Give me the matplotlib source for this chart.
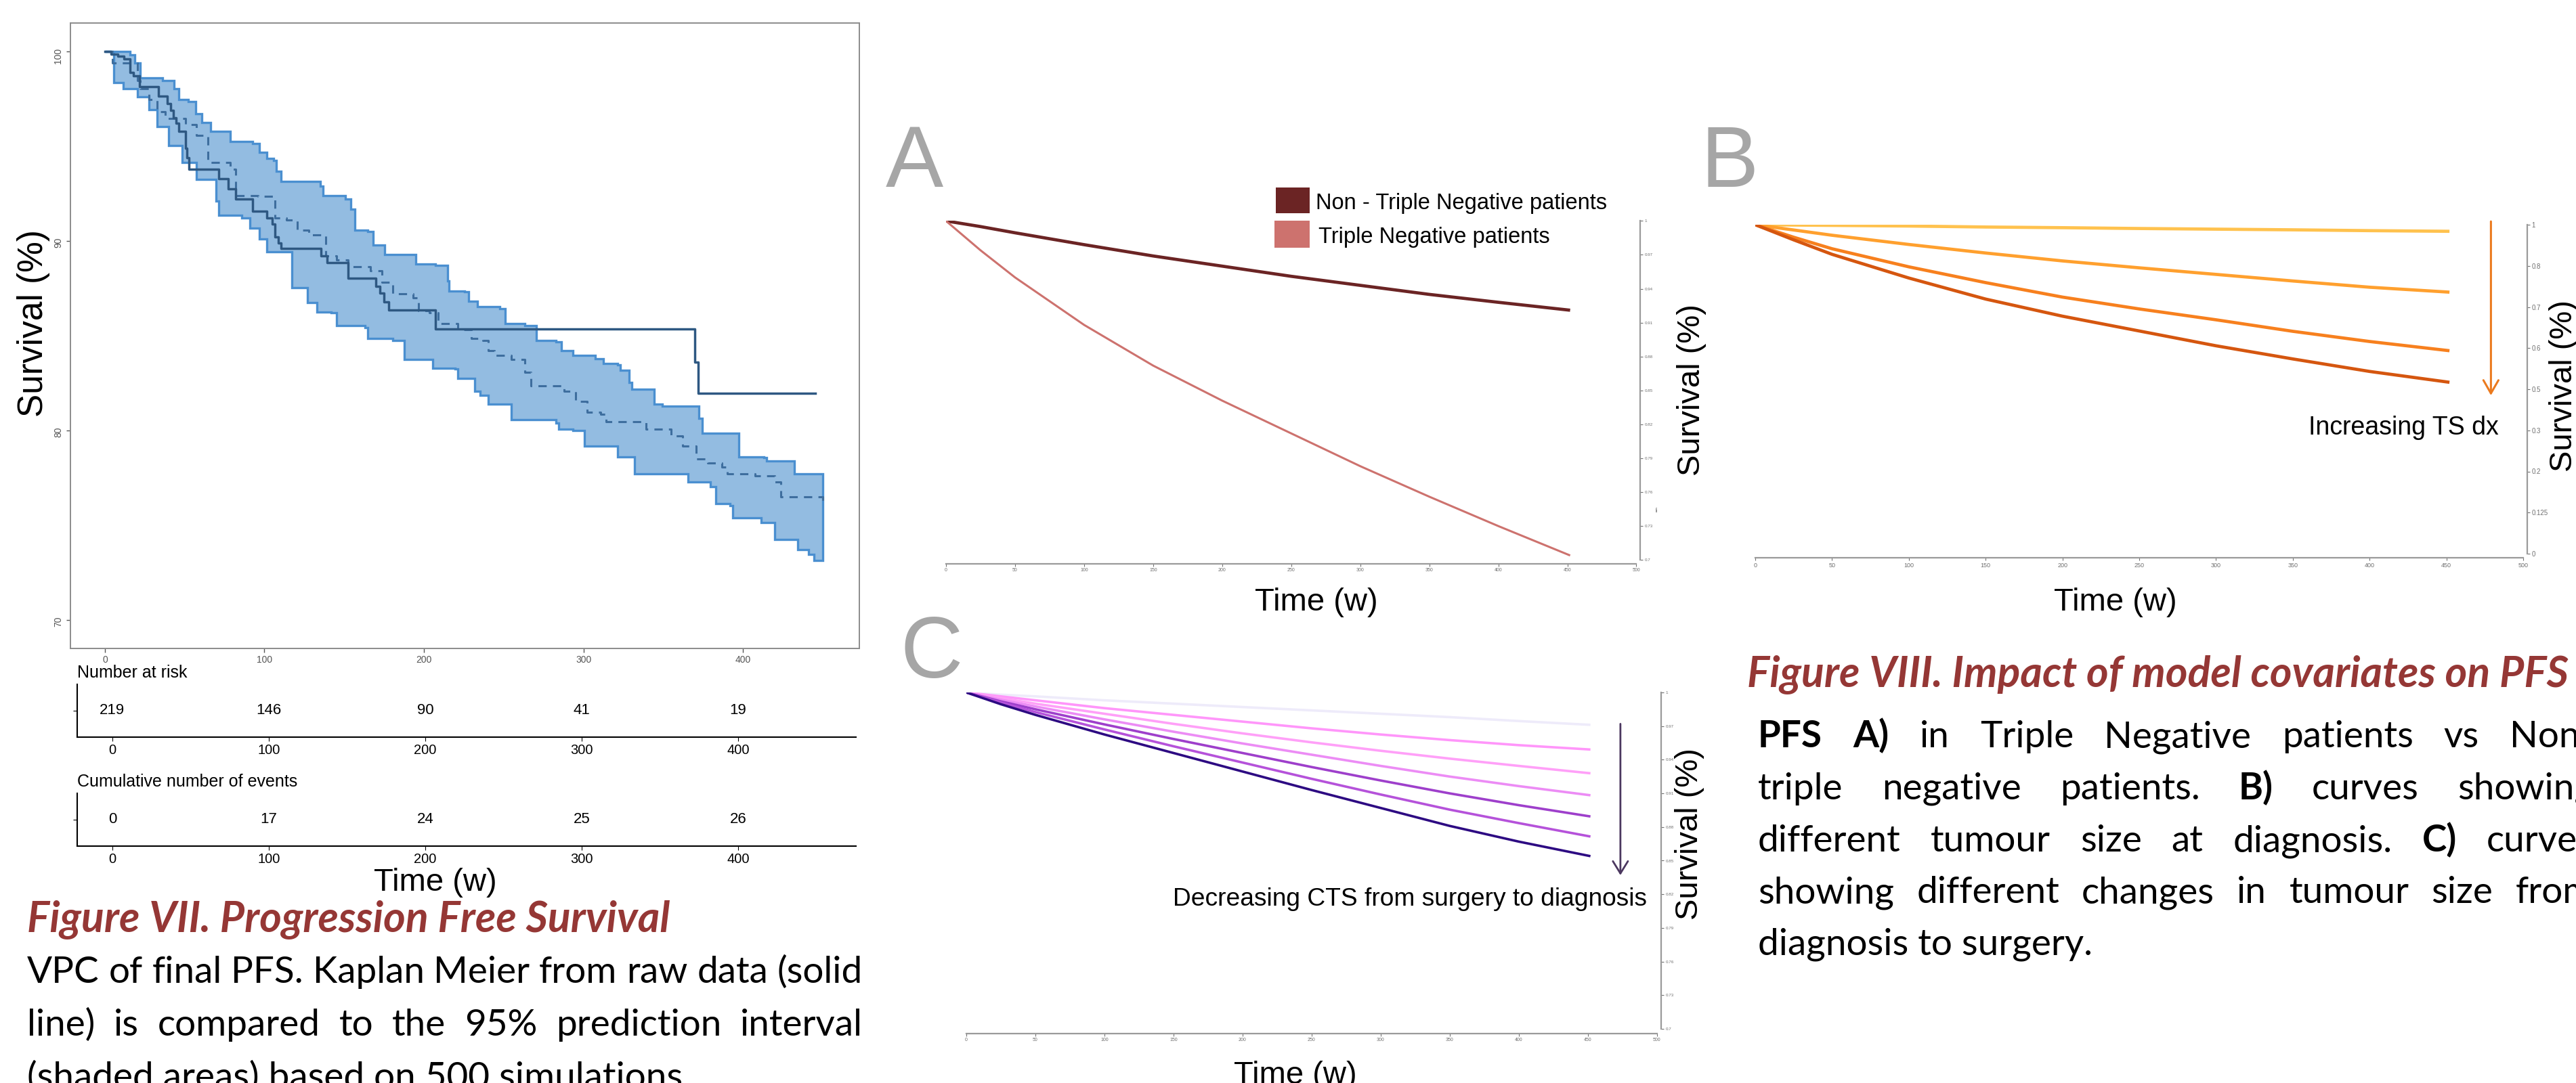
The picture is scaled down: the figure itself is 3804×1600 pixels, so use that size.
import matplotlib
matplotlib.use("Agg")
import matplotlib.pyplot as plt
from matplotlib.patches import Rectangle
import numpy as np

W, H = 3804, 1600

# ======= Figure VII: VPC of PFS (weeks, survival %) =======
km_t = [0, 4, 8, 12, 15.8, 18, 21.5, 33.5, 39.1, 41, 43, 44.5, 46.1, 50.4, 51.5, 52.8,
        71.5, 77.5, 82, 92.6, 101.4, 104.9, 106.7, 108.5, 110.2, 135.6, 139.4, 152.5,
        170, 172.5, 175, 178, 207.4, 370, 371.8, 445.4]
km_s = [100, 99.87, 99.75, 99.62, 98.9, 98.7, 98.15, 97.66, 97.25, 96.9, 96.5, 96.2, 95.8,
        94.9, 94.4, 93.8, 93.3, 92.75, 92.2, 91.56, 91.2, 90.9, 90.2, 89.9, 89.6, 89.2,
        88.84, 88.04, 87.6, 87.25, 86.8, 86.36, 85.36, 83.6, 81.96, 81.96]

pi_hi_t = [0, 15.8, 18.7, 22.2, 31.0, 36.3, 43.3, 46.1, 52.1, 56.7, 60.9, 66.2, 78.5, 92.6,
           96.8, 101.4, 105.6, 107.4, 110.2, 124.3, 134.9, 136.6, 150.7, 154.2, 156.7, 164.8,
           168.3, 175.4, 189.4, 194.7, 207.0, 214.8, 215.8, 225.4, 228.2, 233.5, 247.5, 251.1,
           263.4, 270.4, 282.7, 286.3, 293.3, 307.4, 312.7, 321.5, 323.2, 328.5, 330.3, 339.1,
           344.4, 349.6, 367.3, 372.5, 374.3, 391.9, 397.2, 413.0, 414.8, 427.1, 432.4, 450.0]
pi_hi_s = [100, 99.82, 99.38, 98.59, 98.59, 98.48, 98.04, 97.48, 97.37, 96.70, 96.25, 95.80,
           95.25, 95.13, 94.69, 94.35, 94.24, 93.68, 93.13, 93.13, 92.90, 92.41, 92.23, 91.67,
           90.56, 90.49, 89.78, 89.29, 89.29, 88.77, 88.71, 87.88, 87.37, 87.32, 86.83, 86.54,
           86.43, 85.65, 85.54, 84.75, 84.69, 84.20, 83.97, 83.79, 83.53, 83.48, 83.19, 82.52,
           82.19, 82.19, 81.41, 81.29, 81.29, 80.63, 79.84, 79.84, 78.62, 78.57, 78.39, 78.39,
           77.72, 77.72]

pi_lo_t = [0, 4.6, 5.6, 11.6, 20.4, 27.5, 32.7, 39.8, 48.6, 57.4, 69.7, 71.5, 85.6, 90.8,
           96.8, 101.4, 113.7, 117.3, 126.1, 127.1, 133.1, 141.9, 145.4, 163.0, 164.8, 180.6,
           187.7, 203.5, 205.3, 219.4, 221.1, 229.9, 231.7, 235.2, 240.5, 247.5, 254.6, 282.7,
           284.5, 293.3, 300.4, 314.4, 321.5, 332.0, 362.0, 365.5, 379.6, 383.1, 391.9, 393.7,
           411.3, 420.1, 434.2, 441.2, 444.7, 450.0]
pi_lo_s = [100, 99.93, 98.37, 98.04, 97.59, 96.92, 96.03, 95.02, 94.13, 93.24, 92.12, 91.34,
           91.23, 90.67, 90.11, 89.44, 89.44, 87.54, 87.54, 86.76, 86.25, 86.21, 85.54, 85.42,
           84.87, 84.75, 83.75, 83.75, 83.30, 83.26, 82.75, 82.75, 82.08, 81.85, 81.41, 81.41,
           80.58, 80.40, 80.07, 80.0, 79.17, 79.17, 78.62, 77.72, 77.72, 77.28, 77.05, 76.16,
           76.05, 75.38, 75.16, 74.26, 73.71, 73.48, 73.15, 73.15]

pi_med_t = [0, 4.6, 15.1, 20.4, 22.2, 27.5, 32.7, 38.0, 50.4, 57.4, 64.4, 78.5, 82.0, 96.1,
            106.7, 113.7, 120.8, 127.8, 138.4, 145.4, 152.5, 166.5, 173.6, 180.6, 193.0, 196.5,
            203.5, 208.8, 221.1, 229.9, 237.0, 240.5, 244.0, 254.6, 263.4, 266.9, 288.0, 295.1,
            302.1, 310.9, 314.4, 332.0, 339.1, 354.9, 362.0, 370.8, 377.8, 386.6, 390.1, 407.7,
            420.1, 423.6, 434.2, 450.0]
pi_med_s = [100, 99.38, 99.38, 98.48, 98.04, 97.48, 96.81, 96.47, 96.14, 95.58, 94.13, 93.79,
            92.41, 92.34, 91.23, 91.12, 90.56, 90.33, 89.22, 89.0, 88.66, 88.44, 87.81, 87.21,
            86.99, 86.32, 86.21, 85.65, 85.31, 84.87, 84.75, 84.20, 83.97, 83.75, 83.08, 82.37,
            82.08, 81.52, 80.96, 80.85, 80.45, 80.45, 80.07, 79.73, 79.17, 78.50, 78.28, 78.06,
            77.72, 77.61, 77.28, 76.50, 76.50, 76.27]

km_xticks = [0, 100, 200, 300, 400]
km_yticks = [70, 80, 90, 100]
risk_times = [0, 100, 200, 300, 400]
n_risk = [219, 146, 90, 41, 19]
cum_events = [0, 17, 24, 25, 26]

# ======= Figure VIII: covariate curves =======
t_grid = [0, 25, 50, 100, 150, 200, 250, 300, 350, 400, 452]

a_non_tn = [1, 0.995, 0.9895, 0.979, 0.969, 0.960, 0.951, 0.943, 0.935, 0.928, 0.921]
a_tn = [1, 0.974, 0.950, 0.908, 0.872, 0.841, 0.812, 0.783, 0.756, 0.730, 0.704]

b_curves = [
    [1, 0.999, 0.998, 0.996, 0.993, 0.991, 0.9885, 0.9865, 0.9845, 0.982, 0.980],
    [1, 0.984, 0.968, 0.940, 0.914, 0.890, 0.869, 0.849, 0.829, 0.810, 0.795],
    [1, 0.962, 0.927, 0.872, 0.824, 0.780, 0.744, 0.711, 0.676, 0.645, 0.617],
    [1, 0.954, 0.910, 0.838, 0.774, 0.722, 0.677, 0.632, 0.592, 0.554, 0.521],
]
b_colors = ['#FFC24E', '#FFA02E', '#F7801E', '#D5560F']

c_curves = [
    [1, 0.998, 0.9965, 0.993, 0.990, 0.987, 0.984, 0.981, 0.978, 0.9745, 0.9711],
    [1, 0.9965, 0.993, 0.986, 0.980, 0.974, 0.968, 0.9625, 0.9575, 0.953, 0.9491],
    [1, 0.995, 0.990, 0.981, 0.972, 0.9635, 0.9555, 0.948, 0.941, 0.9345, 0.9279],
    [1, 0.9935, 0.9875, 0.976, 0.965, 0.9545, 0.9445, 0.9345, 0.925, 0.9165, 0.9083],
    [1, 0.992, 0.985, 0.9715, 0.9585, 0.946, 0.9335, 0.9215, 0.910, 0.8995, 0.8894],
    [1, 0.991, 0.9825, 0.967, 0.952, 0.9375, 0.923, 0.909, 0.8955, 0.8835, 0.8715],
    [1, 0.9895, 0.980, 0.9625, 0.946, 0.9295, 0.913, 0.897, 0.881, 0.867, 0.854],
]
c_colors = ['#EEEBFA', '#FF96FA', '#FFA0F8', '#EC8CF5', '#9E3FCB', '#B552DA', '#2D0A82']

mini_xticks = [0, 50, 100, 150, 200, 250, 300, 350, 400, 450, 500]
ac_yticks = [0.7, 0.73, 0.76, 0.79, 0.82, 0.85, 0.88, 0.91, 0.94, 0.97, 1]
ac_ylabels = ['0.7', '0.73', '0.76', '0.79', '0.82', '0.85', '0.88', '0.91', '0.94', '0.97', '1']
b_yticks = [0, 0.125, 0.25, 0.375, 0.5, 0.625, 0.75, 0.875, 1]
b_ylabels = ['0', '0.125', '0.2', '0.3', '0.5', '0.6', '0.7', '0.8', '1']

arrow_b = (479, 1.01, 0.481)
arrow_c = (473.7, 0.972, 0.837)

# ==============================

plt.rcParams['font.family'] = ['Liberation Sans', 'DejaVu Sans']
fig = plt.figure(figsize=(W / 100, H / 100), dpi=100)
renderer = fig.canvas.get_renderer()


def fx(x):
    return x / W


def fy(y):
    return 1 - y / H


def add_ax(x0, y0, x1, y1):
    return fig.add_axes([fx(x0), fy(y1), (x1 - x0) / W, (y1 - y0) / H])


def step_xy(t, s):
    xs, ys = [t[0]], [s[0]]
    for i in range(1, len(t)):
        xs += [t[i], t[i]]
        ys += [s[i - 1], s[i]]
    return xs, ys


def ptext(x, y, s, **kw):
    return fig.text(fx(x), fy(y), s, **kw)


# ---- KM / VPC panel ----
ax = add_ax(103.6, 34, 1268.6, 958)
ux, uy = step_xy(pi_hi_t, pi_hi_s)
lx, ly = step_xy(pi_lo_t, pi_lo_s)
ax.fill(ux + lx[::-1], uy + ly[::-1], facecolor='#93BCE1', edgecolor='#4A8FD0', lw=2.4)
ax.step(pi_med_t, pi_med_s, where='post', color='#3E6E9E', lw=2.2, ls=(0, (4, 3)))
ax.step(km_t, km_s, where='post', color='#2E5882', lw=2.5)
ax.set_xlim(-21.8, 472.8)
ax.set_ylim(68.5, 101.5)
ax.set_xticks(km_xticks)
ax.set_yticks(km_yticks)
ax.tick_params(axis='both', colors='#555555', labelsize=10, length=4, width=1)
ax.tick_params(axis='y', labelrotation=90)
for sp in ax.spines.values():
    sp.set_color('#8C8C8C')
    sp.set_linewidth(1.4)
ptext(50, 478, "Survival (%)", fontsize=37, rotation=90, ha='center', va='center')

# risk tables
for top, bot, vals, title, ty in [(1011, 1088.6, n_risk, "Number at risk", 994),
                                  (1172, 1250, cum_events, "Cumulative number of events", 1155)]:
    r = add_ax(114.4, top, 1264.5, bot)
    r.set_xlim(-22.3, 475.6)
    r.set_ylim(0, 1)
    for t, v in zip(risk_times, vals):
        r.text(t, 0.5, str(v), ha='center', va='center', fontsize=16)
    r.spines[['top', 'right']].set_visible(False)
    r.spines[['left', 'bottom']].set_linewidth(1.5)
    r.set_xticks(risk_times)
    r.set_yticks([0.5])
    r.set_yticklabels([])
    r.tick_params(labelsize=14.5, length=4)
    r.patch.set_alpha(0)
    ptext(114.4, ty, title, fontsize=18, va='center', ha='left')

ptext(643, 1316, "Time (w)", fontsize=34, ha='center', va='baseline')


# ---- Figure VIII mini panels ----
def mini_axes(rect, ylim, yticks, ylabels, ysize, xsize, out):
    a = add_ax(*rect)
    a.set_xlim(0, 500)
    a.set_ylim(*ylim)
    a.spines[['top', 'left']].set_visible(False)
    for s in ['bottom', 'right']:
        a.spines[s].set_color('#9A9A9A')
        a.spines[s].set_linewidth(1.6)
        a.spines[s].set_position(('outward', out))
    a.yaxis.tick_right()
    a.set_xticks(mini_xticks)
    a.set_xticklabels([str(v) for v in mini_xticks])
    a.set_yticks(yticks)
    a.set_yticklabels(ylabels)
    a.tick_params(axis='x', labelsize=xsize, colors='#707070', length=3, pad=1.5)
    a.tick_params(axis='y', labelsize=ysize, colors='#707070', length=3, pad=1.5)
    a.patch.set_alpha(0)
    return a


# A
axA = mini_axes((1397, 326.4, 2416.5, 827.3), (0.7, 1.0), ac_yticks, ac_ylabels, 4.5, 5, 4)
axA.plot(t_grid, a_non_tn, color='#6B2424', lw=3.4, solid_capstyle='butt')
axA.plot(t_grid, a_tn, color='#CD726E', lw=2.2, solid_capstyle='butt')
ptext(1308, 276, "A", fontsize=92, color='#A6A6A6', va='baseline')
fig.patches.append(Rectangle((fx(1884), fy(315)), 49.5 / W, 38 / H, transform=fig.transFigure,
                             facecolor='#6B2424', edgecolor='none'))
fig.patches.append(Rectangle((fx(1882), fy(366)), 51.5 / W, 40 / H, transform=fig.transFigure,
                             facecolor='#CD726E', edgecolor='none'))
ptext(1943, 300, "Non - Triple Negative patients", fontsize=23.5, va='center')
ptext(1947, 351, "Triple Negative patients", fontsize=23.5, va='center')
ptext(1943.5, 902, "Time (w)", fontsize=34, ha='center', va='baseline')
ptext(2498, 576, "Survival (%)", fontsize=34, rotation=90, ha='center', va='center')
ptext(2447, 752, "cum", fontsize=3, rotation=90, ha='center', va='center')

# B
axB = mini_axes((2592, 332, 3726, 818), (0, 1), b_yticks, b_ylabels, 7, 6.5, 4.5)
for vals, col in zip(b_curves, b_colors):
    axB.plot(t_grid, vals, color=col, lw=3.4, solid_capstyle='butt')
x_, y0_, y1_ = arrow_b
axB.annotate('', xy=(x_, y1_), xytext=(x_, y0_), annotation_clip=False,
             arrowprops=dict(arrowstyle='->,head_length=0.7,head_width=0.4', color='#EB7A1E',
                             lw=2.2, mutation_scale=20, shrinkA=0, shrinkB=0))
ptext(2512, 276, "B", fontsize=92, color='#A6A6A6', va='baseline')
ptext(3689.5, 632, "Increasing TS dx", fontsize=27, ha='right', va='center')
ptext(3124, 902, "Time (w)", fontsize=34, ha='center', va='baseline')
ptext(3786, 570, "Survival (%)", fontsize=34, rotation=90, ha='center', va='center')

# C
axC = mini_axes((1427, 1023, 2446.5, 1520), (0.7, 1.0), ac_yticks, ac_ylabels, 4.5, 5, 5)
for vals, col in zip(c_curves, c_colors):
    axC.plot(t_grid, vals, color=col, lw=2.6, solid_capstyle='butt')
x_, y0_, y1_ = arrow_c
axC.annotate('', xy=(x_, y1_), xytext=(x_, y0_), annotation_clip=False,
             arrowprops=dict(arrowstyle='->,head_length=0.65,head_width=0.4', color='#4B375F',
                             lw=2.0, mutation_scale=20, shrinkA=0, shrinkB=0))
ptext(1330, 1001, "C", fontsize=92, color='#A6A6A6', va='baseline')
ptext(2431.6, 1329, "Decreasing CTS from surgery to diagnosis", fontsize=26.7, ha='right', va='center')
ptext(1913, 1601, "Time (w)", fontsize=34, ha='center', va='baseline')
ptext(2495, 1232, "Survival (%)", fontsize=34, rotation=90, ha='center', va='center')


# ---- captions ----
CAP_FONT = ['Lato', 'DejaVu Sans']
CAP_SIZE = 39.5
TITLE_SIZE = 45
RED = '#953735'


def justify(words, x0, x1, y):
    items = []
    for w, wt in words:
        items.append(ptext(0, y, w, fontsize=CAP_SIZE, fontweight=wt, family=CAP_FONT,
                           va='baseline'))
    widths = [t.get_window_extent(renderer).width for t in items]
    gap = (x1 - x0 - sum(widths)) / (len(items) - 1)
    gap = max(gap, CAP_SIZE * 100 / 72 * 0.2)
    x = x0
    for t, wd in zip(items, widths):
        t.set_x(fx(x))
        x += wd + gap


def words_of(s, bold=()):
    return [(w, 'bold' if w in bold else 'normal') for w in s.split()]


ptext(40, 1377, "Figure VII. Progression Free Survival", family=CAP_FONT, style='italic',
      fontweight='bold', color=RED, fontsize=TITLE_SIZE, va='baseline')
justify(words_of("VPC of final PFS. Kaplan Meier from raw data (solid"), 40, 1274, 1452)
justify(words_of("line) is compared to the 95% prediction interval"), 40, 1274, 1530)
ptext(40, 1608, "(shaded areas) based on 500 simulations.", family=CAP_FONT, fontsize=CAP_SIZE,
      va='baseline')

ptext(2580, 1015, "Figure VIII. Impact of model covariates on PFS", family=CAP_FONT,
      style='italic', fontweight='bold', color=RED, fontsize=TITLE_SIZE, va='baseline')
justify(words_of("PFS A) in Triple Negative patients vs Non-", bold=("PFS", "A)")), 2596, 3830, 1104)
justify(words_of("triple negative patients. B) curves showing", bold=("B)",)), 2596, 3830, 1181)
justify(words_of("different tumour size at diagnosis. C) curves", bold=("C)",)), 2596, 3830, 1258)
justify(words_of("showing different changes in tumour size from"), 2596, 3830, 1334)
ptext(2596, 1410, "diagnosis to surgery.", family=CAP_FONT, fontsize=CAP_SIZE, va='baseline')

fig.savefig("out.png", dpi=100)
